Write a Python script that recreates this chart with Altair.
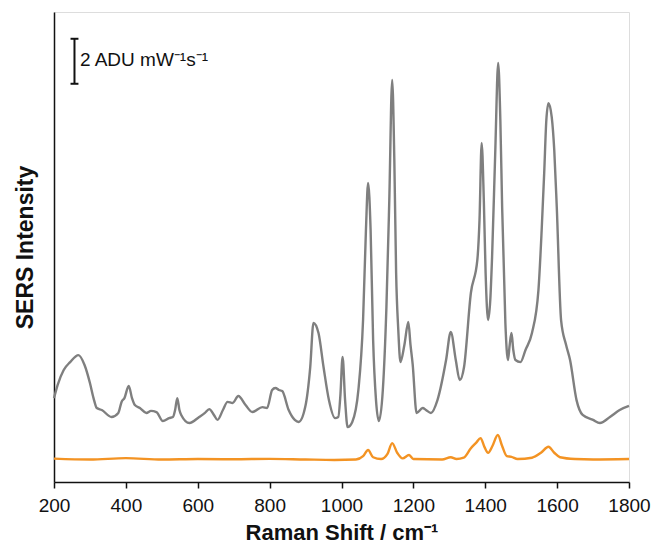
import altair as alt
import pandas as pd

# Gray spectrum (Raman shift, intensity in ADU mW^-1 s^-1 arbitrary offset)
gray_x = [200, 210, 227, 245, 268, 285, 300, 310, 319, 333, 360, 379, 388, 396, 408, 417, 425, 439, 457, 470,
          485, 503, 520, 531, 537, 543, 549, 554, 577, 604, 620, 632, 645, 655, 670, 683, 697, 713, 733, 752,
          780, 793, 807, 816, 826, 835, 853, 870, 881, 899, 913, 922, 936, 950, 965, 982, 991, 997, 1003, 1010,
          1017, 1030, 1047, 1060, 1068, 1074, 1081, 1088, 1096, 1104, 1115, 1125, 1133, 1141, 1147, 1152, 1158,
          1164, 1175, 1186, 1192, 1198, 1209, 1226, 1235, 1249, 1267, 1291, 1304, 1318, 1329, 1341, 1360, 1378,
          1384, 1390, 1396, 1401, 1408, 1414, 1419, 1428, 1436, 1442, 1447, 1456, 1463, 1468, 1473, 1478, 1484,
          1498, 1512, 1530, 1548, 1557, 1564, 1570, 1576, 1585, 1592, 1599, 1611, 1625, 1636, 1654, 1671, 1700,
          1719, 1747, 1774, 1800]
gray_y = [3.73, 4.31, 4.98, 5.33, 5.64, 5.20, 4.40, 3.73, 3.29, 3.20, 2.89, 3.07, 3.56, 3.73, 4.27, 3.73, 3.42, 3.29, 3.07, 3.16,
          3.11, 2.71, 2.84, 2.89, 3.20, 3.73, 3.20, 2.98, 2.62, 2.89, 3.07, 3.24, 2.98, 2.76, 3.20, 3.56, 3.51, 3.82, 3.42, 3.11,
          3.33, 3.29, 4.09, 4.18, 4.09, 4.04, 3.20, 2.76, 2.67, 3.33, 5.11, 7.07, 6.62, 5.11, 3.64, 2.84, 2.89, 3.87, 5.56, 3.64,
          2.44, 2.67, 4.09, 7.20, 11.20, 13.29, 11.20, 6.31, 3.64, 2.71, 4.09, 7.78, 12.53, 17.87, 14.31, 9.29, 6.76,
          5.33, 6.09, 7.11, 6.09, 5.24, 3.07, 3.29, 3.20, 3.07, 3.64, 5.42, 6.67, 5.42, 4.53, 5.11, 8.40, 9.87,
          11.64, 15.07, 12.53, 9.29, 7.20, 8.09, 10.00, 14.76, 18.62, 16.09, 12.22, 7.07, 5.42, 6.09, 6.62, 5.87, 5.42,
          5.33, 5.87, 6.62, 8.53, 11.20, 13.73, 16.09, 16.84, 16.22, 14.76, 12.22, 7.20, 6.09, 5.42, 3.64, 2.98, 2.76,
          2.62, 2.89, 3.20, 3.38]

# Orange spectrum
orange_x = [200, 300, 400, 500, 600, 700, 800, 900, 980, 1040, 1060, 1074, 1088, 1110, 1128, 1141, 1155, 1170,
            1188, 1200, 1280, 1304, 1320, 1340, 1360, 1375, 1387, 1398, 1408, 1420, 1435, 1447, 1460, 1473, 1490,
            1530, 1555, 1576, 1592, 1608, 1650, 1700, 1800]
orange_y = [1.04, 1.00, 1.06, 1.00, 1.02, 1.01, 1.03, 1.00, 0.98, 1.00, 1.15, 1.42, 1.10, 1.02, 1.25, 1.73, 1.30, 1.05,
            1.20, 1.02, 1.00, 1.10, 1.02, 1.08, 1.50, 1.75, 1.95, 1.55, 1.30, 1.60, 2.09, 1.60, 1.15, 1.12, 1.02,
            1.08, 1.30, 1.57, 1.30, 1.10, 1.02, 1.00, 1.02]

x_ticks = [200, 300, 400, 500, 600, 700, 800, 900, 1000, 1100, 1200, 1300, 1400, 1500, 1600, 1700, 1800]

# Scale bar annotation (data units)
bar_x = [257]
bar_y0 = [17.7]
bar_y1 = [19.7]
cap_x0 = [246]
cap_x1 = [268]
label_x = [272]
label_y = [18.75]
label_text = ["2 ADU mW\u207b\u00b9s\u207b\u00b9"]

FONT = "Liberation Sans"

df = pd.concat([
    pd.DataFrame({"shift": gray_x, "intensity": gray_y, "series": "gray"}),
    pd.DataFrame({"shift": orange_x, "intensity": orange_y, "series": "orange"}),
])

xscale = alt.Scale(domain=[200, 1800], nice=False)
yscale = alt.Scale(domain=[0, 20.89], nice=False)

lines = alt.Chart(df).mark_line(interpolate="monotone", strokeWidth=2.4).encode(
    x=alt.X("shift:Q", scale=xscale,
            axis=alt.Axis(title="Raman Shift / cm\u207b\u00b9", values=x_ticks,
                          labelExpr="datum.value % 200 === 0 ? datum.label : ''",
                          format="d", grid=False, tickSize=6, tickWidth=1.5, tickColor="#111",
                          domainColor="#111", domainWidth=1.5, labelFont=FONT, labelFontSize=19,
                          labelColor="#111", labelPadding=8, labelFlush=False, labelOverlap=False,
                          titleFont=FONT, titleFontSize=22,
                          titleFontWeight="bold", titleColor="#111", titlePadding=7)),
    y=alt.Y("intensity:Q", scale=yscale,
            axis=alt.Axis(title="SERS Intensity", labels=False, ticks=False, grid=False,
                          domainColor="#111", domainWidth=1.5, titleFont=FONT, titleFontSize=23,
                          titleFontWeight="bold", titleColor="#111", titlePadding=17)),
    color=alt.Color("series:N", scale=alt.Scale(domain=["gray", "orange"], range=["#7f7f7f", "#f39323"]),
                    legend=None),
    order=alt.Order("shift:Q"),
)

bar_df = pd.DataFrame({"bx": bar_x, "by0": bar_y0, "by1": bar_y1, "cx0": cap_x0, "cx1": cap_x1,
                       "lx": label_x, "ly": label_y, "lt": label_text})

bar = alt.Chart(bar_df).mark_rule(color="#111", strokeWidth=2).encode(
    x=alt.X("bx:Q", scale=xscale), y=alt.Y("by0:Q", scale=yscale), y2="by1:Q")
cap_top = alt.Chart(bar_df).mark_rule(color="#111", strokeWidth=2).encode(
    x=alt.X("cx0:Q", scale=xscale), x2="cx1:Q", y=alt.Y("by1:Q", scale=yscale))
cap_bot = alt.Chart(bar_df).mark_rule(color="#111", strokeWidth=2).encode(
    x=alt.X("cx0:Q", scale=xscale), x2="cx1:Q", y=alt.Y("by0:Q", scale=yscale))
label = alt.Chart(bar_df).mark_text(align="left", baseline="middle", font=FONT, fontSize=19,
                                    color="#111").encode(
    x=alt.X("lx:Q", scale=xscale), y=alt.Y("ly:Q", scale=yscale), text="lt:N")

chart = alt.layer(lines, bar, cap_top, cap_bot, label).properties(
    width=575, height=470,
    autosize=alt.AutoSizeParams(type="none"),
    padding={"left": 46, "top": 4, "right": 23, "bottom": 63},
).configure_view(stroke="#111", strokeWidth=1.5).configure(background="white")

chart.save("out.html", embed_options={"renderer": "svg", "actions": False})
